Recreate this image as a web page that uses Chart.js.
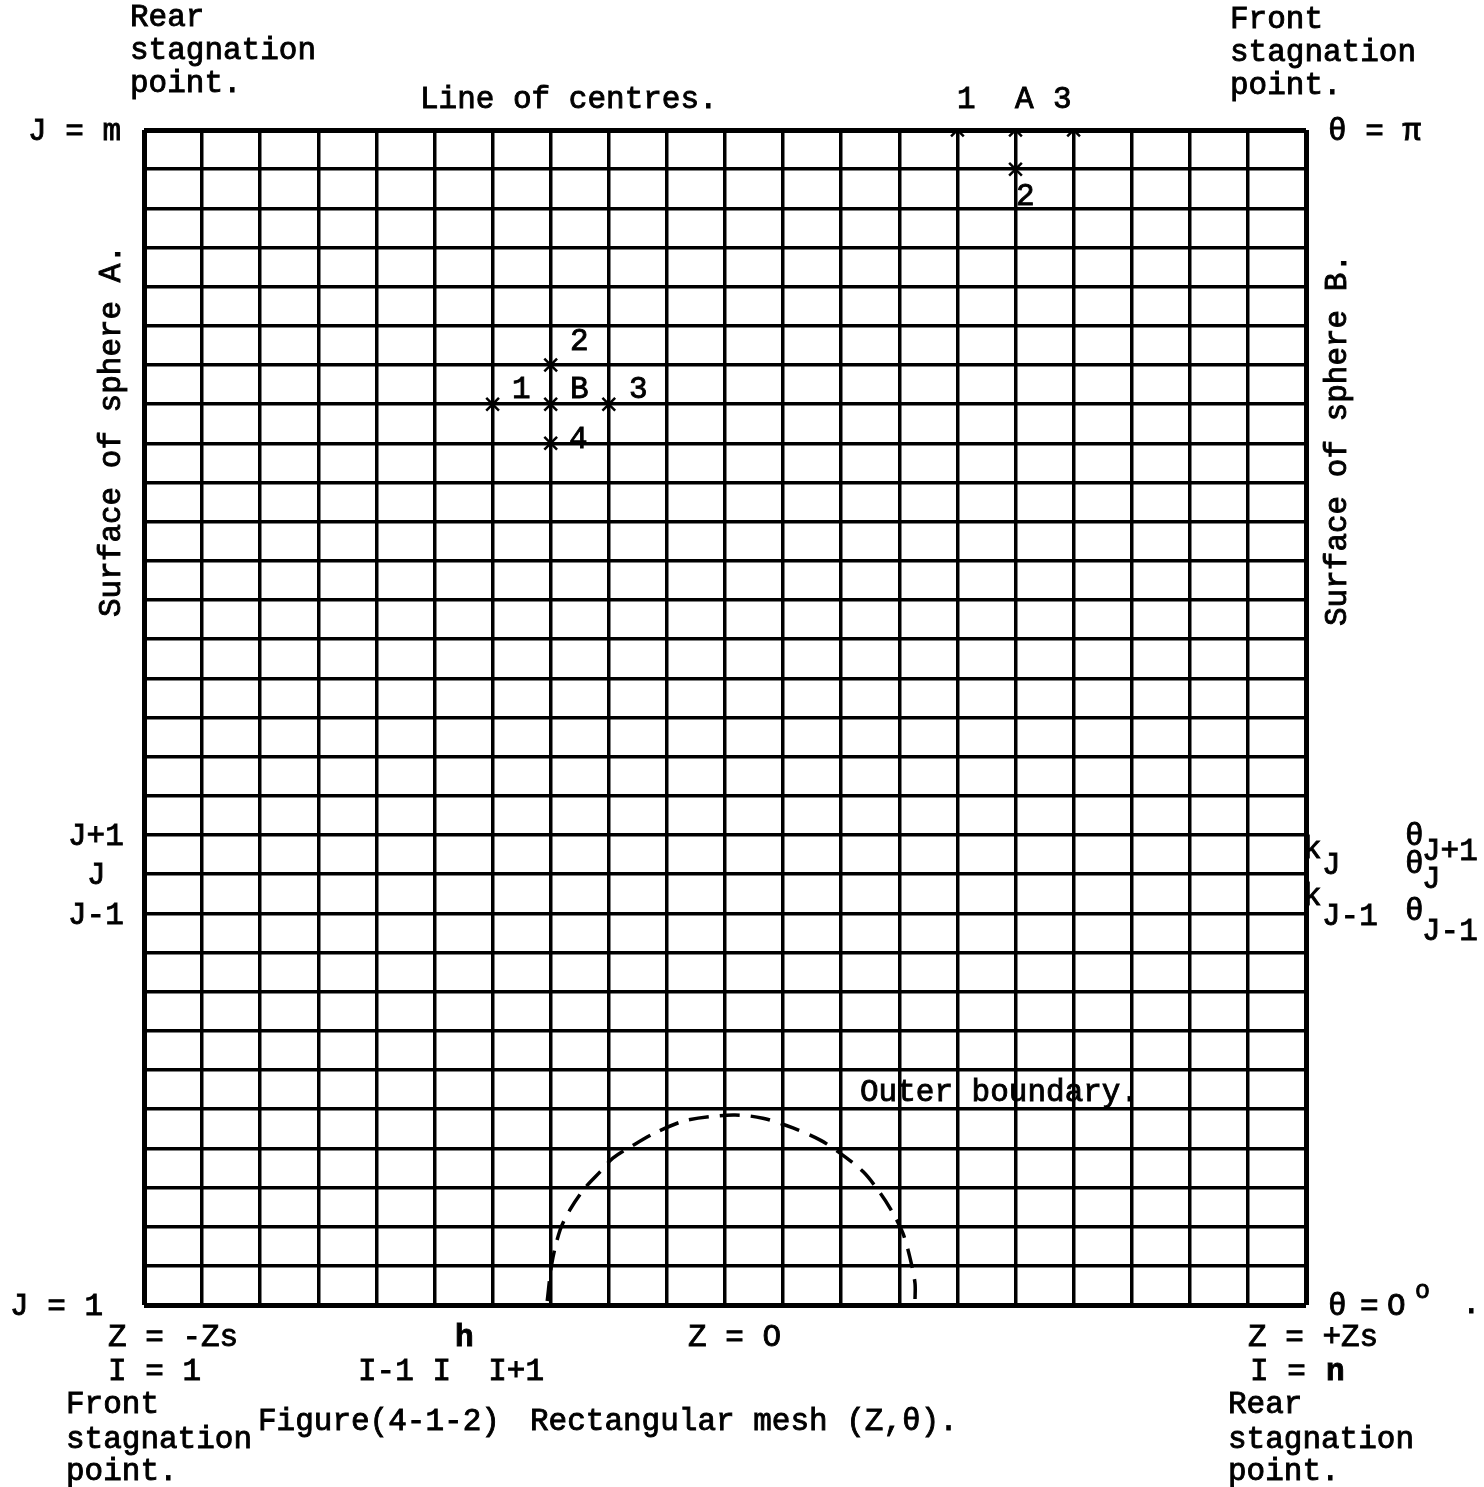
<!DOCTYPE html>
<html>
<head>
<meta charset="utf-8">
<script src="https://cdn.jsdelivr.net/npm/chart.js@4.4.0/dist/chart.umd.min.js"></script>
<style>
  html, body { margin: 0; padding: 0; background: #fff; }
  #wrap { width: 1484px; height: 1487px; }
</style>
</head>
<body>
<div id="wrap"><canvas id="mesh" width="1484" height="1487"></canvas></div>
<script>
// mesh: 20 steps in Z (I = 1..n), 30 steps in theta (J = 1..m)
const nCols = 20;
const nRows = 30;

// stencil nodes A (on the line of centres) and B (interior)
const stencilI = [14, 15, 15, 16, 6, 7, 7, 7, 8];
const stencilJ = [30, 30, 29, 30, 23, 23, 24, 22, 23];

// outer boundary
const boundaryZ = [6.94, 7.02, 7.16, 7.33, 7.59, 7.85, 8.07, 8.42, 8.83, 9.35, 10.14,
                   10.65, 11.17, 11.64, 11.98, 12.38, 12.67, 12.89, 13.06, 13.18, 13.27, 13.27];
const boundaryT = [0.1, 1.07, 1.91, 2.43, 2.99, 3.40, 3.75, 4.08, 4.42, 4.72, 4.85,
                   4.77, 4.52, 4.21, 3.88, 3.40, 2.86, 2.35, 1.84, 1.23, 0.56, 0.1];

// row labels, left of the mesh
const rowLabels = ['J = m', 'J+1', 'J', 'J-1', 'J = 1'];
const rowValues = [30, 12, 11, 10, 0];

(function(){
    const FONT = '"Liberation Mono", "Courier New", monospace';
    const rowLabelLeft = [28, 68, 87, 68, 10];

    // free text of the figure: [text, left x, middle y, size, bold]
    const notes = [
        ['Rear', 130, 18], ['stagnation', 130, 51], ['point.', 130, 84],
        ['Front', 1230, 20], ['stagnation', 1230, 53], ['point.', 1230, 86],
        ['Line of centres.', 420, 100],
        ['1', 957, 100], ['A', 1015, 100], ['3', 1053, 100],
        ['θ = π', 1328, 132],
        ['2', 1016, 197],
        ['2', 570, 342], ['1', 512, 390], ['B', 570, 390], ['3', 629, 390], ['4', 569, 440],
        ['k', 1303, 850], ['J', 1322, 866], ['k', 1303, 897], ['J-1', 1322, 917],
        ['θ', 1405, 837], ['J+1', 1422, 852],
        ['θ', 1405, 865], ['J', 1422, 880],
        ['θ', 1405, 912], ['J-1', 1422, 932],
        ['Outer boundary.', 860, 1093],
        ['θ', 1328, 1307], ['=', 1360, 1307], ['O', 1387, 1307], ['o', 1415, 1291, 25], ['.', 1462, 1305],
        ['Z = -Zs', 108, 1338], ['h', 455, 1338, 31, true], ['Z = O', 688, 1338], ['Z = +Zs', 1248, 1338],
        ['I = 1', 108, 1372], ['I-1 I  I+1', 358, 1372], ['I =', 1250, 1372], ['n', 1326, 1372, 31, true],
        ['Front', 66, 1405], ['stagnation', 66, 1440], ['point.', 66, 1472],
        ['Figure(4-1-2)', 258, 1422], ['Rectangular mesh (Z,θ).', 530, 1422],
        ['Rear', 1228, 1405], ['stagnation', 1228, 1440], ['point.', 1228, 1472]
    ];

    function put(ctx, t, x, y){
        ctx.fillText(t, x, y);
        ctx.strokeText(t, x, y);
    }

    const textPlugin = {
        id: 'meshText',
        afterDraw(chart){
            const ctx = chart.ctx;
            const y = chart.scales.y;
            ctx.save();
            ctx.fillStyle = '#000';
            ctx.strokeStyle = '#000';
            ctx.lineWidth = 0.9;
            ctx.textBaseline = 'middle';
            ctx.textAlign = 'left';
            ctx.font = '31px ' + FONT;
            rowLabels.forEach((t, i) => {
                put(ctx, t, rowLabelLeft[i], y.getPixelForValue(rowValues[i]) + 2);
            });
            notes.forEach(n => {
                ctx.font = (n[4] ? 'bold ' : '') + (n[3] || 31) + 'px ' + FONT;
                put(ctx, n[0], n[1], n[2]);
            });
            // side captions
            ctx.font = '31px ' + FONT;
            ctx.textAlign = 'center';
            [['Surface of sphere A.', 112, 431], ['Surface of sphere B.', 1338, 440]].forEach(s => {
                ctx.save();
                ctx.translate(s[1], s[2]);
                ctx.rotate(-Math.PI / 2);
                put(ctx, s[0], 0, 0);
                ctx.restore();
            });
            ctx.restore();
        }
    };

    function gridWidth(max){
        return c => (c.tick && (c.tick.value === 0 || c.tick.value === max)) ? 5 : 3.5;
    }

    const ctx = document.getElementById('mesh').getContext('2d');
    new Chart(ctx, {
        type: 'scatter',
        data: {
            datasets: [{
                type: 'line',
                data: boundaryZ.map((z, i) => ({ x: z, y: boundaryT[i] })),
                borderColor: '#000',
                borderWidth: 3.5,
                borderDash: [20, 11],
                pointRadius: 0,
                tension: 0.3,
                fill: false
            }, {
                data: stencilI.map((v, i) => ({ x: v, y: stencilJ[i] })),
                pointStyle: 'crossRot',
                pointRadius: 9,
                borderWidth: 2.5,
                borderColor: '#000'
            }]
        },
        options: {
            responsive: false,
            animation: false,
            layout: { padding: { left: 144, top: 130, right: 178, bottom: 182 } },
            plugins: { legend: { display: false }, tooltip: { enabled: false } },
            scales: {
                x: {
                    type: 'linear', min: 0, max: nCols,
                    ticks: { stepSize: 1, display: false, maxTicksLimit: 100 },
                    grid: { color: '#000', lineWidth: gridWidth(nCols), drawTicks: false },
                    border: { display: false }
                },
                y: {
                    type: 'linear', min: 0, max: nRows,
                    ticks: { stepSize: 1, display: false, maxTicksLimit: 100 },
                    grid: { color: '#000', lineWidth: gridWidth(nRows), drawTicks: false },
                    border: { display: false }
                }
            }
        },
        plugins: [textPlugin]
    });
})();
</script>
</body>
</html>
